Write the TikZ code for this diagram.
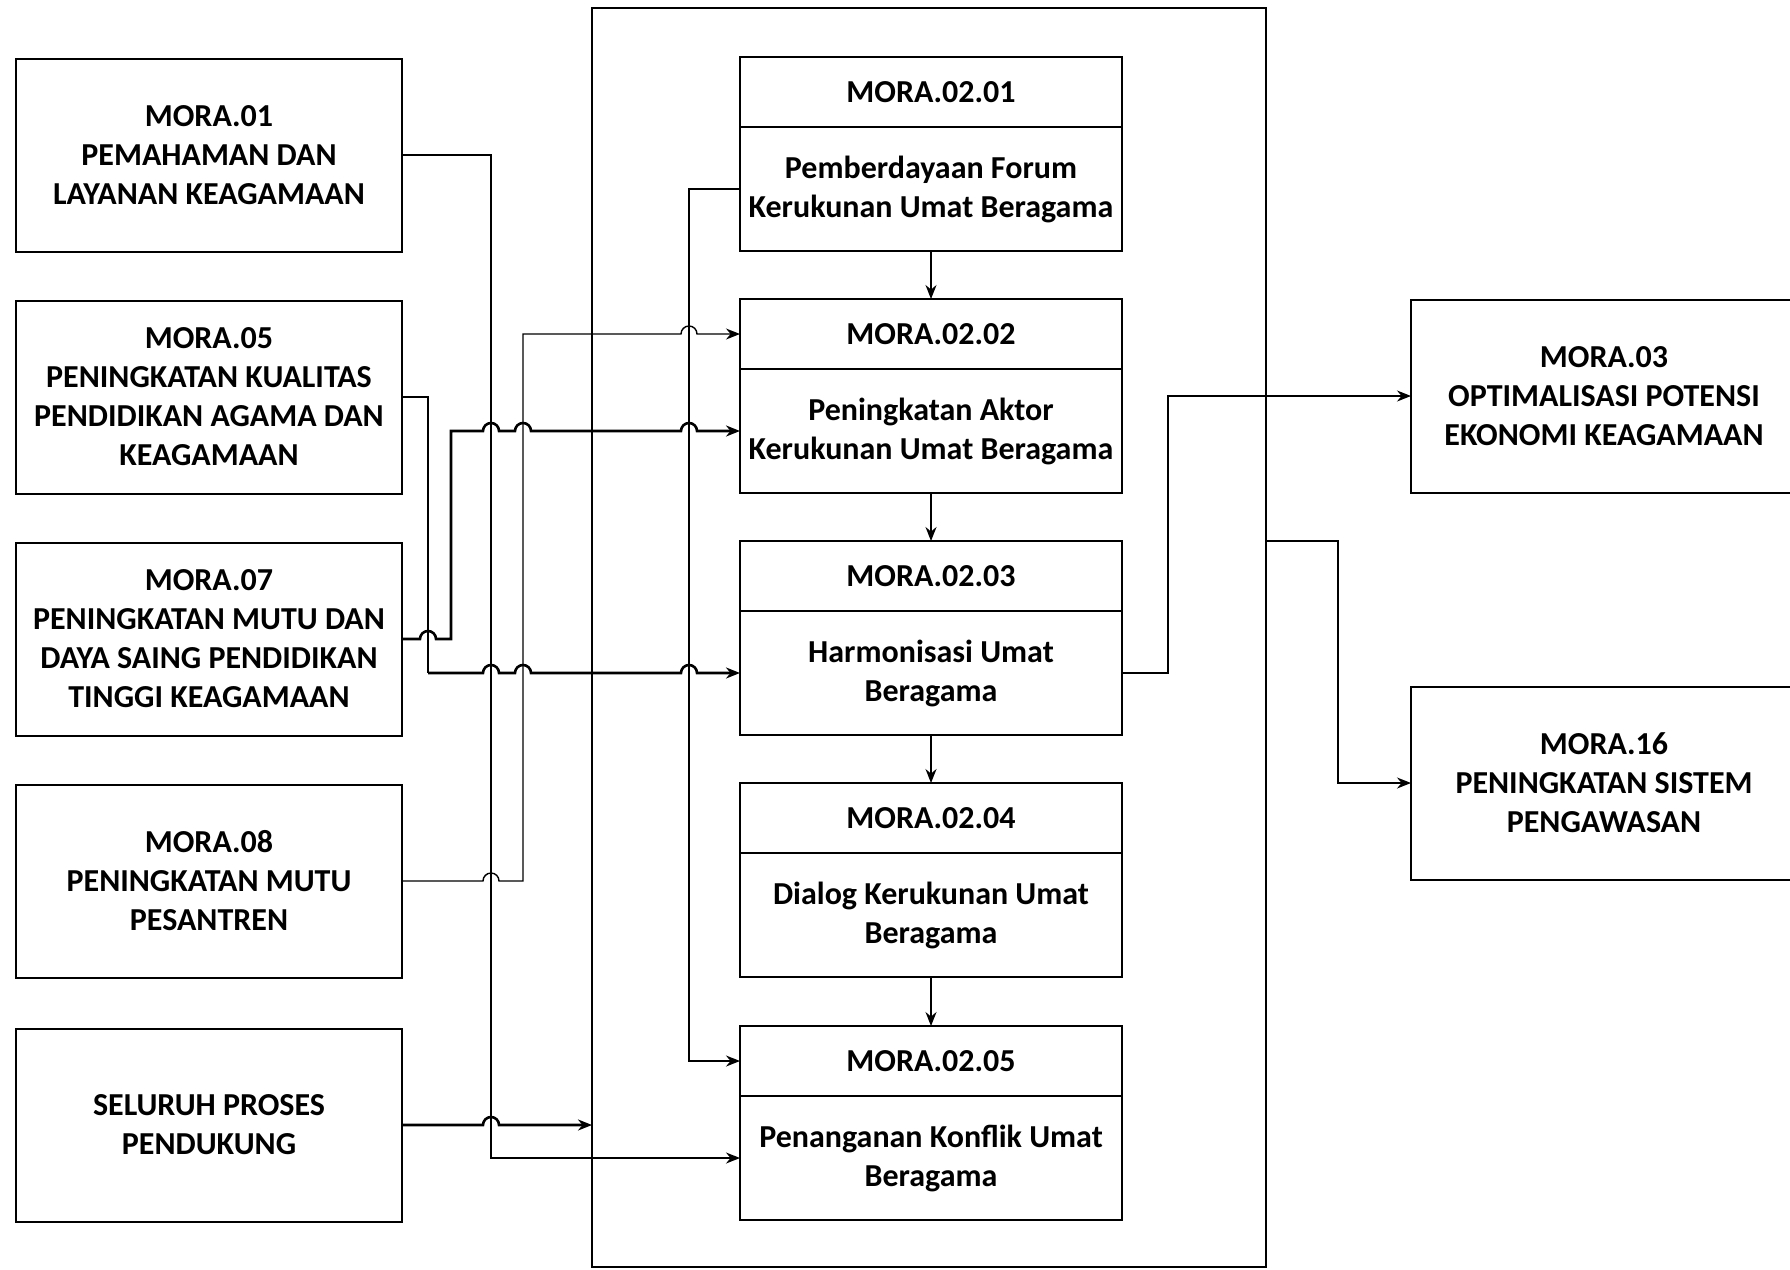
\documentclass[tikz,border=0pt]{standalone}
\usepackage{fontspec}
\setmainfont{Carlito}
\usetikzlibrary{positioning,arrows.meta}
\newcommand{\hop}[1]{-- ([xshift=-8pt]#1) arc[start angle=180,end angle=0,radius=8pt]}
\begin{document}
\begin{tikzpicture}[x=1pt,y=-1pt,
  box/.style={draw,line width=2pt,inner sep=0pt,outer sep=0pt,align=center,font=\bfseries\fontsize{32}{39}\selectfont},
  lbox/.style={box,minimum width=386pt,minimum height=193pt},
  hdr/.style={box,minimum width=382pt,minimum height=70pt},
  bdy/.style={box,minimum width=382pt,minimum height=124pt},
  thn/.style={line width=1.4pt},
  thk/.style={line width=2.6pt},
  arr/.style={-{Stealth[length=14pt,width=11pt]}}]
  \useasboundingbox (0,0) rectangle (1790,1269);

  \node[draw,line width=2pt,inner sep=0pt,outer sep=0pt,minimum width=674pt,minimum height=1259pt] (grp) at (929,637.5) {};

  \node[lbox] (m01) at (209,155) {MORA.01\\PEMAHAMAN DAN\\LAYANAN KEAGAMAAN};
  \node[lbox] (m05) at (209,397) {MORA.05\\PENINGKATAN KUALITAS\\PENDIDIKAN AGAMA DAN\\KEAGAMAAN};
  \node[lbox] (m07) at (209,639) {MORA.07\\PENINGKATAN MUTU DAN\\DAYA SAING PENDIDIKAN\\TINGGI KEAGAMAAN};
  \node[lbox] (m08) at (209,881) {MORA.08\\PENINGKATAN MUTU\\PESANTREN};
  \node[lbox] (sel) at (209,1125) {SELURUH PROSES\\PENDUKUNG};

  \node[hdr] (kh01) at (931,92) {MORA.02.01};
  \node[bdy,below=0pt of kh01] (kb01) {Pemberdayaan Forum\\Kerukunan Umat Beragama};
  \node[hdr] (kh02) at (931,334) {MORA.02.02};
  \node[bdy,below=0pt of kh02] (kb02) {Peningkatan Aktor\\Kerukunan Umat Beragama};
  \node[hdr] (kh03) at (931,576) {MORA.02.03};
  \node[bdy,below=0pt of kh03] (kb03) {Harmonisasi Umat\\Beragama};
  \node[hdr] (kh04) at (931,818) {MORA.02.04};
  \node[bdy,below=0pt of kh04] (kb04) {Dialog Kerukunan Umat\\Beragama};
  \node[hdr] (kh05) at (931,1061) {MORA.02.05};
  \node[bdy,below=0pt of kh05] (kb05) {Penanganan Konflik Umat\\Beragama};

  \node[lbox] (m03) at (1604,396) {MORA.03\\OPTIMALISASI POTENSI\\EKONOMI KEAGAMAAN};
  \node[lbox] (m16) at (1604,783) {MORA.16\\PENINGKATAN SISTEM\\PENGAWASAN};

  \coordinate (x05) at (428,0);
  \coordinate (x07) at (451,0);
  \coordinate (x01) at (491,0);
  \coordinate (x08) at (523,0);
  \coordinate (x21) at (689,0);
  \coordinate (x23) at (1168,0);
  \coordinate (xout) at (1338,0);

  \foreach \a/\b in {1/2,2/3,3/4,4/5}
    \draw[thn,arr] (kb0\a.south) -- (kh0\b.north);

  \draw[thn,arr] (m01.east) -| (x01 |- kb05.west) -- (kb05.west);
  \draw[thn,arr] (kb01.west) -| (x21 |- kh05.west) -- (kh05.west);
  \draw[thn] (m05.east) -| (x05 |- kb03.west);
  \draw[thk,arr] (x05 |- kb03.west) \hop{x01 |- kb03.west} \hop{x08 |- kb03.west} \hop{x21 |- kb03.west} -- (kb03.west);
  \draw[thk,arr] (m07.east) \hop{x05 |- m07.east} -| (x07 |- kb02.west) \hop{x01 |- kb02.west} \hop{x08 |- kb02.west} \hop{x21 |- kb02.west} -- (kb02.west);
  \draw[thn,arr] (m08.east) \hop{x01 |- m08.east} -| (x08 |- kh02.west) \hop{x21 |- kh02.west} -- (kh02.west);
  \draw[thk,arr] (sel.east) \hop{x01 |- sel.east} -- (grp.west |- sel.east);

  \draw[thn,arr] (kb03.east) -| (x23 |- m03.west) -- (m03.west);
  \draw[thn,arr] (grp.east |- kh03.north) -| (xout |- m16.west) -- (m16.west);
\end{tikzpicture}
\end{document}
